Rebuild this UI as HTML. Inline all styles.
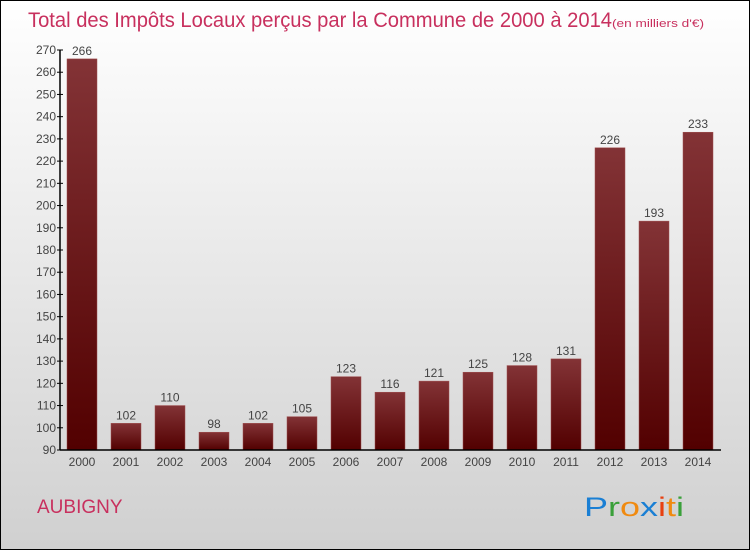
<!DOCTYPE html>
<html><head><meta charset="utf-8"><style>
body{margin:0}
#c{width:748px;height:548px;border:1px solid #000;position:relative;overflow:hidden;background:linear-gradient(#ffffff,#d0d0d0);font-family:"Liberation Sans",sans-serif}
</style></head><body>
<div id="c">
<svg width="748" height="548" viewBox="1 1 748 548" id="s" font-family="Liberation Sans, sans-serif">
<defs><linearGradient id="g" x1="0" y1="0" x2="0" y2="1"><stop offset="0" stop-color="#833336"/><stop offset="1" stop-color="#520000"/></linearGradient></defs>
<text x="28" y="27" font-size="21" fill="#c8305e"><tspan textLength="584" lengthAdjust="spacingAndGlyphs">Total des Impôts Locaux perçus par la Commune de 2000 à 2014</tspan><tspan font-size="11" textLength="92" lengthAdjust="spacingAndGlyphs">(en milliers d'€)</tspan></text>
<text x="37" y="513" font-size="19" fill="#c8305e">AUBIGNY</text>
<g font-size="27">
<text x="584" y="516" textLength="100" lengthAdjust="spacingAndGlyphs"><tspan fill="#1a7fd4">P</tspan><tspan fill="#3aa03a">r</tspan><tspan fill="#f08a10">o</tspan><tspan fill="#1a7fd4">x</tspan><tspan fill="#e84010">i</tspan><tspan fill="#f08a10">t</tspan><tspan fill="#3aa03a">i</tspan></text></g>
<g id="plot"></g>
</svg>
</div>
<script>
const years=["2000","2001","2002","2003","2004","2005","2006","2007","2008","2009","2010","2011","2012","2013","2014"];
const values=[266,102,110,98,102,105,123,116,121,125,128,131,226,193,233];
const yTicks=[90,100,110,120,130,140,150,160,170,180,190,200,210,220,230,240,250,260,270];
const NS="http://www.w3.org/2000/svg";
const g=document.getElementById('plot');
const y0=450,y1=50,vmin=90,vmax=270;
const Y=v=>y0-(v-vmin)/(vmax-vmin)*(y0-y1);
const X=i=>82+i*44;
function mk(t,a,txt){const e=document.createElementNS(NS,t);for(const k in a)e.setAttribute(k,a[k]);if(txt!==undefined)e.textContent=txt;g.appendChild(e);return e;}
years.forEach((yr,i)=>{
 const b=mk('rect',{x:X(i)-15,y:Y(values[i]),width:30,height:y0-Y(values[i]),fill:'url(#g)',stroke:'#a05050','stroke-width':0.5});
 
 
 const l=mk('text',{x:X(i),y:Y(values[i])-4,'font-size':12,'text-anchor':'middle',fill:'#444'},values[i]);
 
 
 const xl=mk('text',{x:X(i),y:466,'font-size':12,'text-anchor':'middle',fill:'#444'},yr);
 
 
});
yTicks.forEach(v=>{
 const t=mk('line',{x1:57,x2:63,y1:Y(v),y2:Y(v),stroke:'#000'});
 
 
 const l=mk('text',{x:56,y:Y(v)+4,'font-size':12,'text-anchor':'end',fill:'#444'},v);
 
 
});
const ya=mk('line',{x1:60,x2:60,y1:50,y2:450,stroke:'#000','stroke-width':1.5});


const xa=mk('line',{x1:60,x2:721,y1:450,y2:450,stroke:'#000','stroke-width':1.5});


</script>
</body></html>
